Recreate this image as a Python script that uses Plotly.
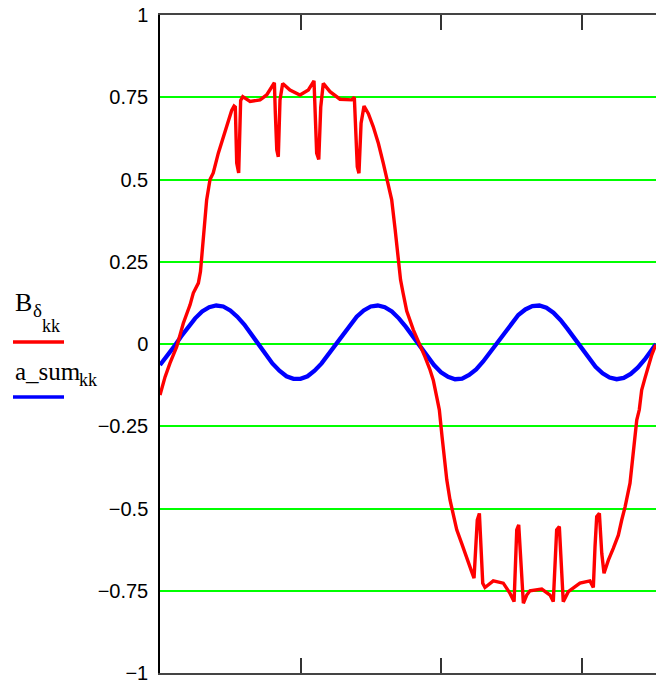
import plotly.graph_objects as go

# ---- data ----
kk_red = [0.0, 3.6, 7.1, 11.9, 16.6, 21.4, 23.7, 27.3, 28.8, 30.2, 31.7, 33.2, 35.6, 37.9, 41.5, 45.1,
          48.6, 51.0, 52.7, 53.6, 54.6, 56.0, 57.4, 58.9, 64.1, 71.2, 75.9, 79.5, 81.4, 82.1, 83.1, 84.2,
          85.4, 87.3, 92.5, 99.6, 105.6, 109.6, 110.5, 111.5, 113.0, 114.4, 116.2, 121.0, 128.1, 136.4,
          138.3, 139.0, 140.4, 141.6, 143.1, 145.2, 148.3, 151.8, 155.4, 158.9, 162.5, 164.9, 167.3, 169.4,
          171.2, 173.0, 175.6, 180.3, 185.1, 188.6, 192.2, 194.5, 196.9, 198.8, 200.7, 202.5, 204.1, 206.4,
          208.8, 211.2, 214.7, 218.3, 221.8, 223.5, 224.9, 225.8, 227.3, 228.5, 229.7, 231.3, 237.2, 244.3,
          249.1, 252.0, 252.9, 253.9, 255.3, 256.7, 258.6, 261.0, 263.3, 271.7, 277.6, 279.9, 281.1, 282.3,
          284.2, 285.9, 287.0, 290.6, 298.9, 306.0, 308.4, 309.6, 310.8, 312.7, 314.4, 316.0, 319.1, 322.6,
          326.2, 328.6, 331.0, 334.5, 336.7, 339.3, 341.1, 342.8, 345.2, 347.5, 350.0, 352.3, 353.0]
B_delta = [-0.155, -0.10, -0.058, -0.008, 0.063, 0.119, 0.155, 0.185, 0.22, 0.29, 0.36, 0.438, 0.50, 0.52,
           0.58, 0.63, 0.67, 0.71, 0.723, 0.72, 0.55, 0.52, 0.74, 0.752, 0.737, 0.742, 0.757, 0.782, 0.794,
           0.70, 0.59, 0.569, 0.742, 0.792, 0.772, 0.757, 0.772, 0.80, 0.69, 0.58, 0.561, 0.72, 0.792,
           0.767, 0.744, 0.742, 0.75, 0.66, 0.539, 0.519, 0.671, 0.723, 0.70, 0.66, 0.61, 0.55, 0.478,
           0.438, 0.35, 0.26, 0.195, 0.155, 0.10, 0.043, -0.003, -0.039, -0.079, -0.11, -0.16, -0.20,
           -0.28, -0.35, -0.413, -0.474, -0.525, -0.565, -0.606, -0.646, -0.692, -0.712, -0.616, -0.535,
           -0.515, -0.616, -0.727, -0.74, -0.72, -0.727, -0.758, -0.783, -0.667, -0.565, -0.55, -0.667,
           -0.788, -0.763, -0.75, -0.745, -0.763, -0.783, -0.667, -0.565, -0.555, -0.707, -0.783, -0.753,
           -0.727, -0.72, -0.74, -0.616, -0.525, -0.515, -0.636, -0.697, -0.657, -0.621, -0.581, -0.535,
           -0.495, -0.423, -0.33, -0.231, -0.20, -0.14, -0.103, -0.069, -0.033, -0.008, -0.003]

kk_blue = list(range(0, 351, 5)) + [353]
a_sum = [-0.064, -0.038, -0.008, 0.023, 0.052, 0.078, 0.099, 0.112, 0.117, 0.114, 0.102, 0.083, 0.059,
         0.030, -0.001, -0.031, -0.059, -0.081, -0.098, -0.106, -0.106, -0.098, -0.081, -0.059, -0.031,
         -0.001, 0.030, 0.058, 0.083, 0.102, 0.114, 0.117, 0.112, 0.099, 0.078, 0.052, 0.023, -0.008,
         -0.037, -0.064, -0.086, -0.100, -0.107, -0.105, -0.094, -0.077, -0.053, -0.025, 0.006, 0.036,
         0.064, 0.088, 0.105, 0.115, 0.117, 0.110, 0.095, 0.073, 0.046, 0.016, -0.014, -0.044, -0.069,
         -0.089, -0.102, -0.107, -0.103, -0.091, -0.072, -0.047, -0.018, 0.000]

y_ticks = [-1, -0.75, -0.5, -0.25, 0, 0.25, 0.5, 0.75, 1]
y_tick_labels = ["\u22121", "\u22120.75", "\u22120.5", "\u22120.25", "0", "0.25", "0.5", "0.75", "1"]
x_ticks = [100, 200, 300]

fig = go.Figure()
fig.add_trace(go.Scatter(x=kk_blue, y=a_sum, mode="lines", line=dict(color="#0000ff", width=4.3),
                         showlegend=False, name="a_sum"))
fig.add_trace(go.Scatter(x=kk_red, y=B_delta, mode="lines", line=dict(color="#ff0000", width=3.4),
                         showlegend=False, name="B"))

fig.update_layout(
    width=656, height=684,
    margin=dict(l=160, r=0, t=15, b=11, pad=0, autoexpand=False),
    paper_bgcolor="white", plot_bgcolor="white",
    showlegend=False,
    xaxis=dict(range=[0, 353], tickvals=x_ticks, showticklabels=False,
               ticks="inside", ticklen=15, tickwidth=2, tickcolor="#333333",
               showline=True, linecolor="#444444", linewidth=2, mirror="ticks",
               showgrid=False, zeroline=False, automargin=False),
    yaxis=dict(range=[-1, 1], tickvals=y_ticks, ticktext=y_tick_labels,
               ticks="", showline=True, linecolor="black", linewidth=1.5, mirror=False,
               showgrid=True, gridcolor="#00ff00", gridwidth=2, zeroline=False,
               tickfont=dict(family="Liberation Sans", size=20, color="black"),
               ticklabelstandoff=6, automargin=False),
)

# legend drawn at the left, Mathcad style
serif = "Liberation Serif"
def ann(text, px, py, size):
    fig.add_annotation(text=text, xref="paper", yref="paper",
                       x=(px - 160) / 496, y=(673 - py) / 658,
                       xanchor="left", yanchor="middle", showarrow=False,
                       font=dict(family=serif, size=size, color="black"))

ann("B", 13, 303, 26)
ann("\u03b4", 31, 311, 19)
ann("kk", 40, 326, 18)
ann("a_sum", 13, 371, 25)
ann("kk", 77, 380, 18)

for py, col in [(342, "#ff0000"), (397, "#0000ff")]:
    fig.add_shape(type="line", xref="paper", yref="paper",
                  x0=(13 - 160) / 496, x1=(64 - 160) / 496,
                  y0=(673 - py) / 658, y1=(673 - py) / 658,
                  line=dict(color=col, width=3.5))

# remove the browser's default page margin so the figure fills the window exactly
fig.write_html("out.html", config={"displayModeBar": False},
               post_script="document.body.style.margin='0';document.body.style.overflow='hidden';")
